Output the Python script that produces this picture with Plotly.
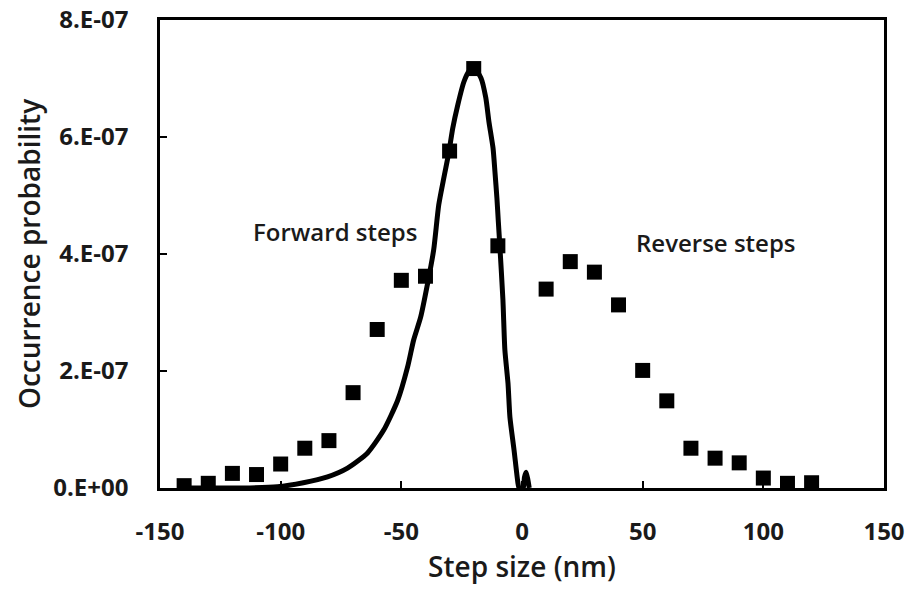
import plotly.graph_objects as go

# Measured histogram (squares)
step_x = [-140, -130, -120, -110, -100, -90, -80, -70, -60, -50, -40, -30, -20, -10,
          10, 20, 30, 40, 50, 60, 70, 80, 90, 100, 110, 120]
step_p = [0.04e-7, 0.08e-7, 0.25e-7, 0.23e-7, 0.41e-7, 0.68e-7, 0.81e-7, 1.63e-7, 2.71e-7,
          3.55e-7, 3.62e-7, 5.76e-7, 7.17e-7, 4.14e-7,
          3.40e-7, 3.87e-7, 3.69e-7, 3.13e-7, 2.01e-7, 1.49e-7, 0.68e-7, 0.51e-7, 0.43e-7,
          0.17e-7, 0.08e-7, 0.09e-7]

# Fitted curve
fit_x = [-140, -115.5, -101.4, -90.6, -80.6, -72.3, -64.0, -57.3, -51.5, -47.4, -44.9, -42.0,
         -39.1, -36.6, -34.5, -32.4, -30.3, -28.7, -26.6, -24.1, -22.0, -19.9, -17.0, -15.0,
         -13.7, -12.0, -11.2, -10.4, -9.8, -9.2, -7.9, -7.1, -5.8, -5.0, -3.3, -1.7, -1.2,
         0.5, 1.0, 1.7, 2.4, 3.0]
fit_p = [0.0, 0.0, 0.02e-7, 0.09e-7, 0.19e-7, 0.34e-7, 0.60e-7, 0.99e-7, 1.50e-7, 2.07e-7,
         2.53e-7, 2.92e-7, 3.50e-7, 4.07e-7, 4.84e-7, 5.30e-7, 5.74e-7, 6.15e-7, 6.55e-7,
         6.94e-7, 7.12e-7, 7.18e-7, 7.01e-7, 6.67e-7, 6.26e-7, 5.81e-7, 5.40e-7, 4.96e-7,
         4.55e-7, 4.15e-7, 3.21e-7, 2.36e-7, 1.79e-7, 1.21e-7, 0.65e-7, 0.09e-7, 0.0,
         0.0, 0.18e-7, 0.27e-7, 0.15e-7, 0.0]

x_ticks = [-150, -100, -50, 0, 50, 100, 150]
x_ticktext = ["-150", "-100", "-50", "0", "50", "100", "150"]
y_ticks = [0, 2e-7, 4e-7, 6e-7, 8e-7]
y_ticktext = ["0.E+00", "2.E-07", "4.E-07", "6.E-07", "8.E-07"]

labels = ["Forward steps", "Reverse steps"]
label_x = [-77.3, 80.2]
label_y = [4.38e-7, 4.2e-7]

FONT = "'Open Sans', sans-serif"
INK = "#1a1a1a"

fig = go.Figure()
fig.add_trace(go.Scatter(x=fit_x, y=fit_p, mode="lines",
                         line=dict(color="black", width=5, shape="spline", smoothing=0.6),
                         showlegend=False, hoverinfo="skip"))
fig.add_trace(go.Scatter(x=step_x, y=step_p, mode="markers",
                         marker=dict(symbol="square", size=15, color="black"),
                         showlegend=False))

for t, lx, ly in zip(labels, label_x, label_y):
    fig.add_annotation(x=lx, y=ly, text=t, showarrow=False,
                       font=dict(family=FONT, size=24, color=INK, weight=600),
                       xanchor="center", yanchor="middle")

axis_common = dict(showline=True, linecolor="black", linewidth=2.5, mirror=True,
                   showgrid=False, zeroline=False, ticks="inside", ticklen=7,
                   tickwidth=2, tickcolor="black", automargin=False,
                   ticklabeloverflow="allow")

fig.update_layout(
    width=913, height=591,
    margin=dict(l=160, r=29, t=20, b=103),
    plot_bgcolor="white", paper_bgcolor="white",
    xaxis=dict(range=[-150, 150], tickvals=x_ticks, ticktext=x_ticktext,
               tickfont=dict(family=FONT, size=24, color=INK, weight="bold"),
               ticklabelstandoff=20,
               title=dict(text="Step size (nm)", standoff=6,
                          font=dict(family=FONT, size=28, color=INK, weight=600)),
               **axis_common),
    yaxis=dict(range=[0, 8e-7], tickvals=y_ticks, ticktext=y_ticktext,
               tickfont=dict(family=FONT, size=24, color=INK, weight="bold"),
               ticklabelstandoff=24,
               title=dict(text="Occurrence probability", standoff=5,
                          font=dict(family=FONT, size=28, color=INK, weight=600)),
               **axis_common),
)

fig.write_html("out.html", config={"displayModeBar": False},
               post_script="document.body.style.margin='0px';document.body.style.overflow='hidden';")
